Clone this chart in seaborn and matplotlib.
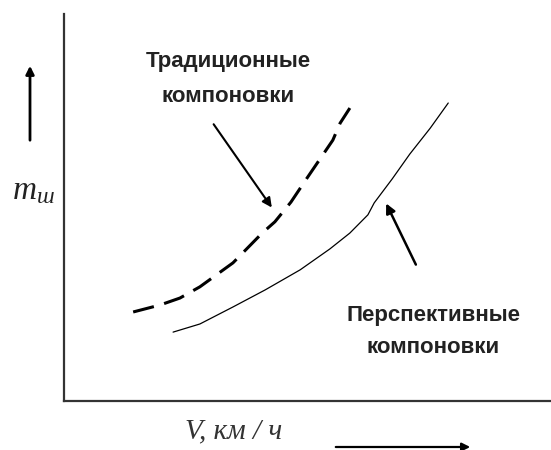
import numpy as np
import pandas as pd
import matplotlib
matplotlib.use('Agg')
import matplotlib.pyplot as plt
import seaborn as sns

sns.set_style('white')
plt.rcParams['font.family'] = ['Liberation Sans', 'DejaVu Sans']
plt.rcParams['mathtext.fontset'] = 'custom'
plt.rcParams['mathtext.it'] = 'Liberation Serif:italic'
plt.rcParams['mathtext.rm'] = 'Liberation Serif'

# schematic curves (axes units 0..100)
trad_v = [14.2, 19.7, 23.8, 27.9, 34.7, 40.7, 43.3, 46.6, 49.9, 55.2, 56.7, 58.7]
trad_m = [23.0, 24.8, 26.6, 29.5, 35.7, 43.4, 46.3, 51.4, 57.6, 67.4, 71.8, 75.7]
persp_v = [22.4, 27.9, 34.7, 41.3, 48.5, 54.6, 58.7, 62.4, 63.7, 67.4, 71.0, 75.2, 78.9]
persp_m = [17.8, 19.9, 24.3, 28.7, 33.9, 39.3, 43.4, 48.1, 51.2, 57.4, 63.8, 70.5, 77.0]

trad_label = 'Традиционные\nкомпоновки'
persp_label = 'Перспективные\nкомпоновки'

df_trad = pd.DataFrame({'V': trad_v, 'm': trad_m})
df_persp = pd.DataFrame({'V': persp_v, 'm': persp_m})

fig = plt.figure(figsize=(5.51, 4.5), dpi=100)
ax = fig.add_axes([64 / 551, 49 / 450, 1 - 64 / 551, 387 / 450])

sns.lineplot(data=df_trad, x='V', y='m', ax=ax, color='black', linewidth=2.2,
             sort=False)
ax.lines[-1].set_dashes((7, 3.5))
sns.lineplot(data=df_persp, x='V', y='m', ax=ax, color='black', linewidth=0.9,
             sort=False)

ax.set_xlim(0, 100)
ax.set_ylim(0, 100)
ax.set_xticks([])
ax.set_yticks([])
ax.set_xlabel('')
ax.set_ylabel('')
for side in ['top', 'right']:
    ax.spines[side].set_visible(False)
for side in ['left', 'bottom']:
    ax.spines[side].set_color('#333333')
    ax.spines[side].set_linewidth(1.6)

# annotations with arrows
ax.text(33.7, 83.2, trad_label, ha='center', va='center', fontsize=16,
        fontweight='bold', color='#222222', linespacing=1.9)
ax.annotate('', xy=(43.0, 49.4), xytext=(30.4, 72.1),
            arrowprops=dict(arrowstyle='-|>', color='black', lw=1.5,
                            mutation_scale=14))
ax.text(75.8, 18.0, persp_label, ha='center', va='center', fontsize=16,
        fontweight='bold', color='#222222', linespacing=1.65)
ax.annotate('', xy=(65.9, 51.7), xytext=(72.5, 34.6),
            arrowprops=dict(arrowstyle='-|>', color='black', lw=1.8,
                            mutation_scale=14))

# axis labels outside the axes, with direction arrows
fig.text(33 / 551, 1 - 191 / 450, r'$m_{ш}$', ha='center', va='center',
         fontsize=24, color='#222222')
fig.text(234 / 551, 1 - 431 / 450, 'V, км / ч', ha='center', va='center',
         fontsize=21, style='italic', family='Liberation Serif', color='#333333')
fig.add_artist(matplotlib.patches.FancyArrowPatch(
    (30 / 551, 1 - 143 / 450), (30 / 551, 1 - 63 / 450),
    transform=fig.transFigure, arrowstyle='-|>', mutation_scale=12,
    color='black', lw=2))
fig.add_artist(matplotlib.patches.FancyArrowPatch(
    (333 / 551, 1 - 447 / 450), (473 / 551, 1 - 447 / 450),
    transform=fig.transFigure, arrowstyle='-|>', mutation_scale=12,
    color='black', lw=1.6))

fig.savefig('out.png', dpi=100)
